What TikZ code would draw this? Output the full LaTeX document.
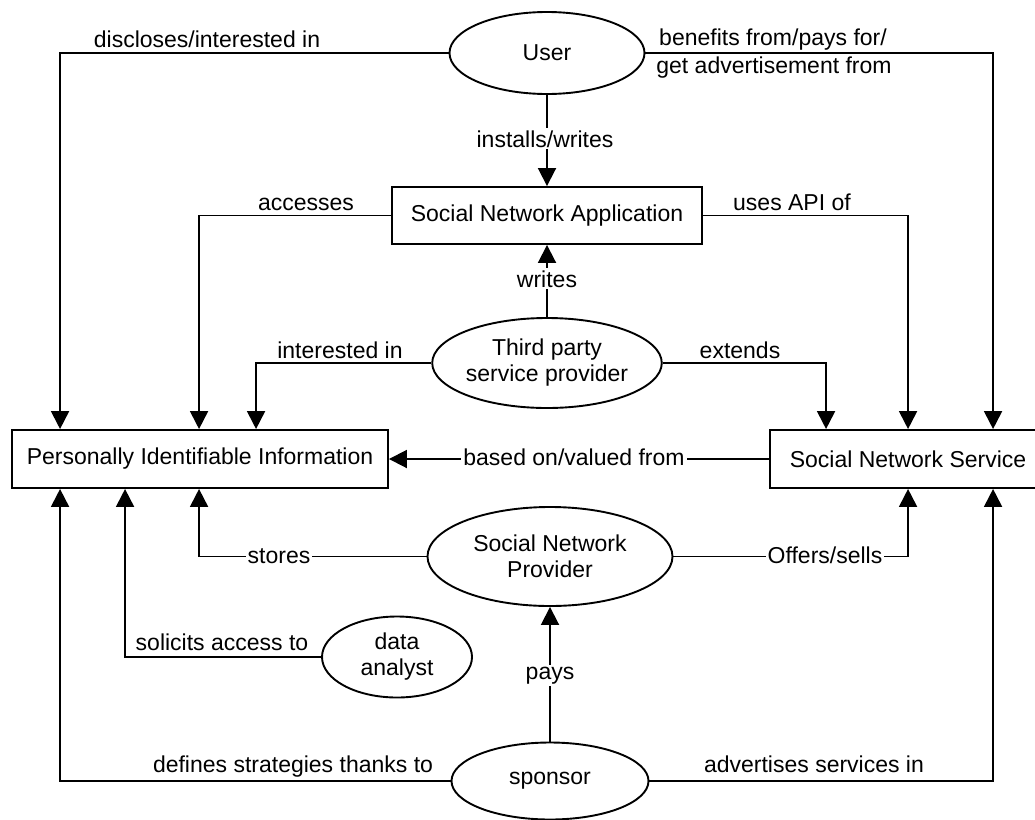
\documentclass[tikz,border=0pt]{standalone}
\usepackage{fontspec}
\setmainfont{Liberation Sans}
\usetikzlibrary{shapes.geometric,arrows.meta}
\begin{document}
\begin{tikzpicture}[x=1pt,y=-1pt, line width=1.9pt,
  every node/.style={font=\fontsize{23}{26}\selectfont},
  box/.style={draw, rectangle, inner sep=0pt, align=center},
  oval/.style={draw, ellipse, inner sep=0pt, align=center},
  arr/.style={-{Triangle[length=18pt,width=18pt]}},
  lbl/.style={anchor=base, inner sep=0pt},
  ilbl/.style={anchor=base, fill=white, inner sep=2pt}]
\useasboundingbox (0,0) rectangle (1035,819);
\clip (0,0) rectangle (1035,819);
% nodes
\node[oval, minimum width=195pt, minimum height=82pt] (user) at (547,53) {User};
\node[box, minimum width=310pt, minimum height=57pt] (sna) at (547,215.5) {Social Network Application};
\node[oval, minimum width=229pt, minimum height=90pt] (tp) at (547,363) {Third party\\service provider};
\node[box, minimum width=376pt, minimum height=58pt] (pii) at (200,459) {Personally Identifiable Information};
\node[box, minimum width=276pt, minimum height=58pt] (sns) at (908,459) {Social Network Service};
\node[oval, minimum width=245pt, minimum height=99pt] (snp) at (550,556.5) {Social Network\\Provider};
\node[oval, minimum width=150pt, minimum height=81pt] (da) at (397,657) {data\\analyst};
\node[oval, minimum width=197pt, minimum height=77pt] (sp) at (550,781) {sponsor};
% connectors
\draw[arr] (user.west) -| ([xshift=49pt]pii.north west);
\draw[arr] (user.east) -| ([xshift=224pt]sns.north west);
\draw[arr] (user.south) -- (user.south |- sna.north);
\draw[arr] (sna.west) -| ([xshift=188pt]pii.north west);
\draw[arr] (sna.east) -| ([xshift=139pt]sns.north west);
\draw[arr] (tp.north) -- (tp.north |- sna.south);
\draw[arr] (tp.west) -| ([xshift=245pt]pii.north west);
\draw[arr] (tp.east) -| ([xshift=57pt]sns.north west);
\draw[arr] (sns.west) -- (pii.east);
\draw[arr] (snp.west) -| ([xshift=188pt]pii.south west);
\draw[arr] (snp.east) -| ([xshift=139pt]sns.south west);
\draw[arr] (da.west) -| ([xshift=114pt]pii.south west);
\draw[arr] (sp.north) -- (sp.north |- snp.south);
\draw[arr] (sp.west) -| ([xshift=49pt]pii.south west);
\draw[arr] (sp.east) -| ([xshift=224pt]sns.south west);
% labels
\node[lbl] (l1) at (207,47) {discloses/interested in};
\node[lbl] (l2) at (773,45) {benefits from/pays for/};
\node[lbl] (l3) at (774,73) {get advertisement from};
\node[ilbl] (l4) at (545,147) {installs/writes};
\node[lbl] (l5) at (306,210) {accesses};
\node[lbl] (l6) at (792,210) {uses API of};
\node[ilbl] (l7) at (547,287) {writes};
\node[lbl] (l8) at (340,358) {interested in};
\node[lbl] (l9) at (740,358) {extends};
\node[ilbl] (l10) at (574,465) {based on/valued from};
\node[ilbl] (l11) at (279,563) {stores};
\node[ilbl] (l12) at (825,563) {Offers/sells};
\node[lbl] (l13) at (222,650) {solicits access to};
\node[ilbl] (l14) at (550,679) {pays};
\node[lbl] (l15) at (293,772) {defines strategies thanks to};
\node[lbl] (l16) at (814,772) {advertises services in};
\end{tikzpicture}
\end{document}
